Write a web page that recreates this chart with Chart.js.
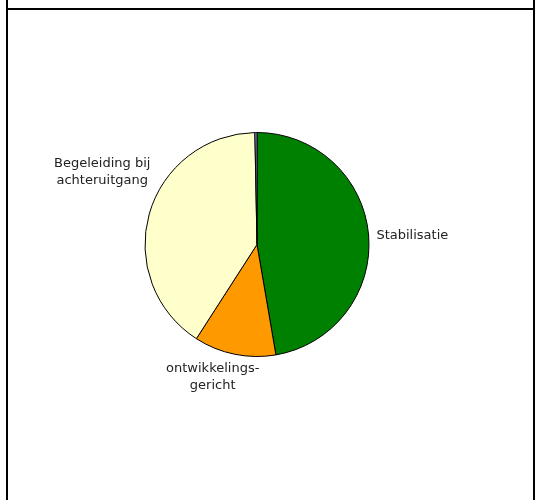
<!DOCTYPE html>
<html>
<head>
<meta charset="utf-8">
<script src="https://cdn.jsdelivr.net/npm/chart.js@4/dist/chart.umd.min.js"></script>
<style>
  body { margin: 0; background: #fff; overflow: hidden; }
  #wrap { position: relative; width: 536px; height: 500px; }
  #pie { position: absolute; left: 0; top: 0; }
  .frame { position: absolute; left: 6px; top: -10px; width: 525px; height: 600px;
           border-left: 2px solid #000; border-right: 2px solid #000; }
  .topline { position: absolute; left: 6px; top: 8px; width: 529px; height: 2px; background: #000; }
</style>
</head>
<body>
<div id="wrap">
  <canvas id="pie" width="536" height="500"></canvas>
  <div class="frame"></div>
  <div class="topline"></div>
</div>
<script>
const categories = ['Stabilisatie', ['ontwikkelings-', 'gericht'], ['Begeleiding bij', 'achteruitgang'], ''];
const values = [47.3, 11.8, 40.6, 0.3];
const sliceColors = ['#008000', '#FF9900', '#FFFFCC', '#9999FF'];

// labels buiten de taart, geplaatst vanaf de hoek van elk segment
const outsideLabels = {
  id: 'outsideLabels',
  afterDatasetsDraw(chart, args, opts) {
    const ctx = chart.ctx;
    const meta = chart.getDatasetMeta(0);
    ctx.save();
    ctx.font = opts.font;
    ctx.fillStyle = opts.color;
    ctx.textBaseline = 'top';
    ctx.textAlign = 'center';
    meta.data.forEach((arc, i) => {
      let lines = chart.data.labels[i];
      if (!lines || !lines.length) return;
      if (!Array.isArray(lines)) lines = [lines];
      const p = arc.getProps(['x', 'y', 'startAngle', 'endAngle', 'outerRadius'], true);
      const mid = (p.startAngle + p.endAngle) / 2;
      const ux = Math.cos(mid), uy = Math.sin(mid);
      const ax = p.x + ux * (p.outerRadius + opts.pad);
      const ay = p.y + uy * (p.outerRadius + opts.pad);
      const w = Math.max(...lines.map(l => ctx.measureText(l).width));
      const h = lines.length * opts.lineHeight;
      const nudge = opts.nudge[i] || [0, 0];
      const left = ax + (ux - 1) / 2 * w + nudge[0];
      const top = ay + (uy - 1) / 2 * h + nudge[1];
      lines.forEach((l, k) => ctx.fillText(l, left + w / 2, top + k * opts.lineHeight));
    });
    ctx.restore();
  }
};

const ctx = document.getElementById('pie').getContext('2d');
new Chart(ctx, {
  type: 'pie',
  data: {
    labels: categories,
    datasets: [{
      data: values,
      backgroundColor: sliceColors,
      borderColor: '#000',
      borderWidth: 1
    }]
  },
  options: {
    responsive: false,
    animation: false,
    layout: { padding: { left: 144.5, right: 166.5, top: 132, bottom: 143 } },
    plugins: {
      legend: { display: false },
      tooltip: { enabled: false },
      outsideLabels: {
        font: '13px "DejaVu Sans"',
        color: '#222',
        pad: 8,
        lineHeight: 17,
        nudge: [[0, 4], [-11, 0], [7, -33]]
      }
    }
  },
  plugins: [outsideLabels]
});
</script>
</body>
</html>
